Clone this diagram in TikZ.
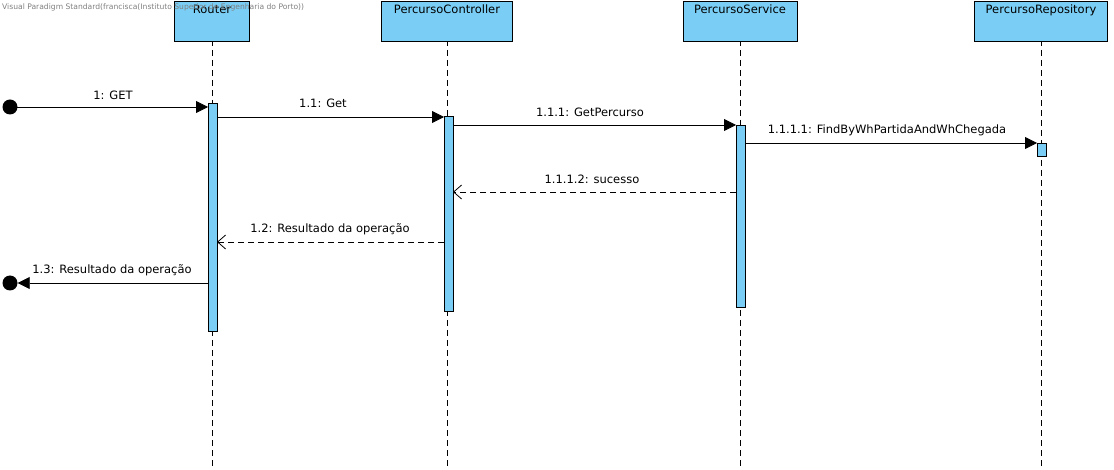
\documentclass[tikz,border=0pt]{standalone}
\usepackage{fontspec}
\setmainfont{DejaVu Sans}
\usetikzlibrary{arrows.meta}
\definecolor{vpblue}{RGB}{122,206,245}
\begin{document}
\begin{tikzpicture}[x=1pt,y=-1pt,
  lifebox/.style={draw=black,fill=vpblue,line width=0.8pt,minimum width=#1,minimum height=40pt,inner sep=0pt,anchor=north},
  actbar/.style={draw=black,fill=vpblue,line width=0.8pt},
  lifeline/.style={black,line width=0.8pt,dash pattern=on 6pt off 4pt},
  msg/.style={line width=0.8pt,-{Triangle[length=12pt,width=12pt]}},
  reply/.style={line width=0.8pt,dash pattern=on 6pt off 4pt,-{Straight Barb[length=8pt,width=14pt,line width=0.8pt]}},
  lbl/.style={font=\fontsize{11.5}{13}\selectfont,inner sep=0pt,anchor=base},
  title/.style={font=\fontsize{11.5}{13}\selectfont,inner sep=0pt,anchor=base},
  endpt/.style={circle,fill=black,minimum size=15pt,inner sep=0pt}]
\useasboundingbox (0,0) rectangle (1114,470);
% lifelines
\draw[lifeline] (212,40) -- (212,470);
\draw[lifeline] (447,40) -- (447,470);
\draw[lifeline] (740,40) -- (740,470);
\draw[lifeline] (1041,40) -- (1041,470);
\node[lifebox=75pt] (router) at (212,1) {};
\node[title] (routerT) at (212,14) {Router};
\node[lifebox=131pt] (ctrl) at (447,1) {};
\node[title] (ctrlT) at (447,14) {PercursoController};
\node[lifebox=114pt] (svc) at (740,1) {};
\node[title] (svcT) at (740,14) {PercursoService};
\node[lifebox=133pt] (repo) at (1041,1) {};
\node[title] (repoT) at (1041,14) {PercursoRepository};
% activation bars
\draw[actbar] (208,103) rectangle (217,331);
\draw[actbar] (444,116) rectangle (453,311);
\draw[actbar] (736,125) rectangle (745,307);
\draw[actbar] (1037,143) rectangle (1046,156);
\coordinate (rL) at (208,107);
\coordinate (rR) at (217,117);
\coordinate (cL1) at (444,117);
\coordinate (cR1) at (453,125);
\coordinate (sL1) at (736,125);
\coordinate (sR1) at (745,143);
\coordinate (pL1) at (1037,143);
\coordinate (sL2) at (736,192);
\coordinate (cR2) at (453,192);
\coordinate (cL3) at (444,242);
\coordinate (rR3) at (217,242);
\coordinate (rL4) at (208,283);
\node[endpt] (start) at (10,107) {};
\node[endpt] (stop) at (10,283) {};
\draw[msg] (start.center) -- (rL);
\node[lbl] at (113,100) {1: GET};
\draw[msg] (rR) -- (cL1);
\node[lbl] at (323,108) {1.1: Get};
\draw[msg] (cR1) -- (sL1);
\node[lbl] at (590,117) {1.1.1: GetPercurso};
\draw[msg] (sR1) -- (pL1);
\node[lbl] at (887,134) {1.1.1.1: FindByWhPartidaAndWhChegada};
\draw[reply] (sL2) -- (cR2);
\node[lbl] at (592,184) {1.1.1.2: sucesso};
\draw[reply] (cL3) -- (rR3);
\node[lbl] at (330,233) {1.2: Resultado da operação};
\draw[msg] (rL4) -- (stop.east);
\node[lbl] at (112,274) {1.3: Resultado da operação};
% watermark
\node[anchor=base west,inner sep=0pt,text=gray,font=\fontsize{7.6}{9}\selectfont] (wm) at (2,10) {Visual Paradigm Standard(francisca(Instituto Superior de Engenharia do Porto))};
\end{tikzpicture}
\end{document}
